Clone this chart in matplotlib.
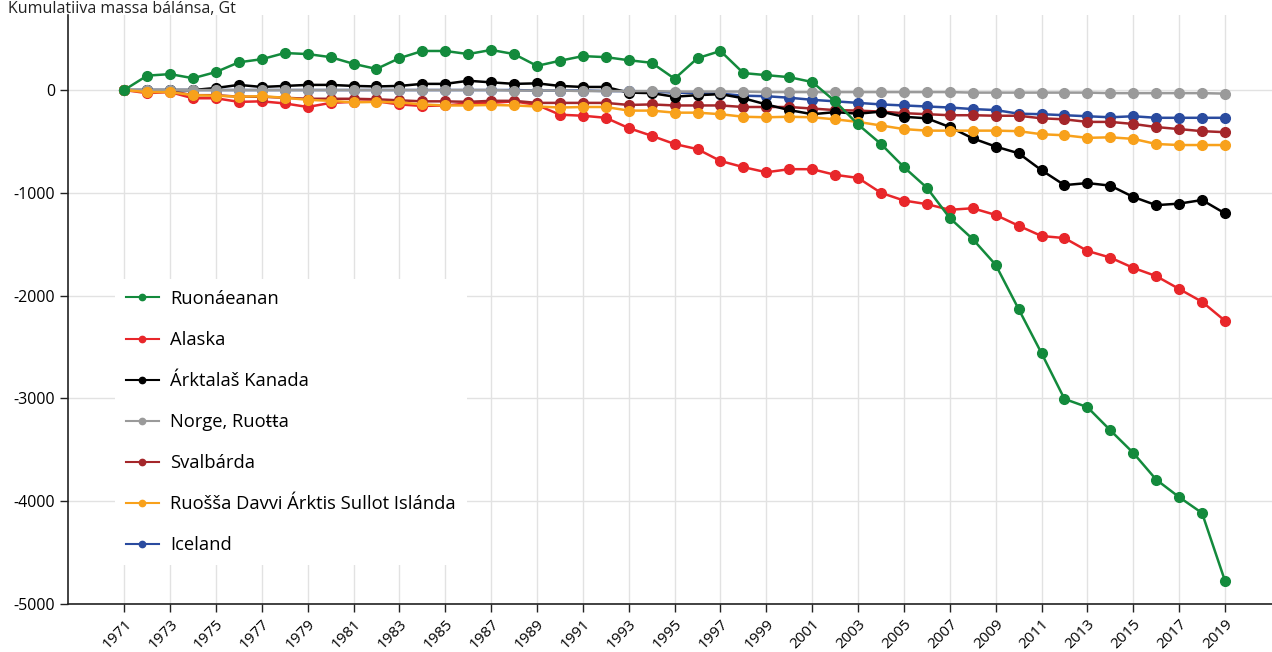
import matplotlib
matplotlib.use("Agg")
import matplotlib.pyplot as plt

plt.rcParams['font.family'] = ['Open Sans', 'DejaVu Sans']

years = list(range(1971, 2020))

# cumulative mass balance, Gt
ruonaeanan = [0, 140, 155, 115, 175, 270, 300, 360, 350, 320, 255, 205, 310, 380, 380,
              350, 390, 350, 235, 285, 330, 320, 290, 265, 110, 310, 380, 165, 145, 125,
              78, -110, -335, -525, -750, -950, -1245, -1450, -1700, -2130, -2560, -3005,
              -3085, -3310, -3530, -3790, -3960, -4115, -4775]
alaska = [0, -30, -20, -80, -80, -115, -110, -130, -165, -125, -115, -110, -140, -155, -150,
          -130, -125, -110, -145, -240, -250, -270, -370, -445, -525, -575, -690, -750, -800,
          -770, -770, -825, -855, -1000, -1075, -1110, -1165, -1150, -1215, -1320, -1420,
          -1440, -1565, -1630, -1730, -1810, -1935, -2060, -2245]
kanada = [0, 0, 0, 0, 20, 50, 30, 40, 50, 50, 40, 35, 40, 60, 60, 90, 75, 60, 65, 40, 30,
          30, -25, -30, -65, -50, -40, -80, -140, -195, -235, -215, -230, -210, -260, -275,
          -360, -470, -550, -615, -780, -925, -905, -930, -1040, -1120, -1105, -1070, -1200]
norge = [0, 0, 0, 0, 0, 0, 0, 0, 0, 0, 0, 0, 0, 0, 0, 0, 0, -5, -5, -5, -10, -10, -10, -10,
         -15, -15, -15, -15, -20, -20, -20, -20, -20, -20, -20, -20, -20, -25, -25, -25, -25,
         -25, -25, -30, -30, -30, -30, -30, -35]
svalbarda = [0, -5, -10, -50, -50, -65, -65, -75, -85, -85, -85, -90, -100, -110, -110, -115,
             -105, -105, -125, -125, -125, -125, -145, -140, -150, -150, -150, -165, -165,
             -165, -180, -195, -200, -210, -225, -235, -245, -245, -250, -250, -275, -285,
             -310, -310, -330, -360, -380, -400, -410]
ruossa = [0, -20, -20, -50, -55, -65, -60, -75, -95, -105, -120, -115, -120, -140, -150, -150,
          -145, -150, -160, -170, -165, -165, -200, -200, -220, -220, -235, -260, -265, -260,
          -265, -285, -310, -345, -380, -395, -395, -395, -395, -400, -430, -440, -465, -460,
          -475, -525, -535, -535, -535]
iceland = [0, 0, 0, 0, 0, 0, 0, 0, 0, 0, 0, 0, 0, 0, 0, 0, 0, 0, -5, -5, -5, -10, -10, -15,
           -25, -30, -35, -55, -60, -75, -95, -110, -125, -140, -150, -160, -170, -185, -195,
           -230, -235, -245, -255, -265, -255, -270, -270, -270, -270]

series = [
    ("Ruonáeanan", ruonaeanan, "#138a3c", 7),
    ("Alaska", alaska, "#e8262a", 2),
    ("Árktalaš Kanada", kanada, "#000000", 4),
    ("Norge, Ruoŧŧa", norge, "#9a9a9a", 5),
    ("Svalbárda", svalbarda, "#a4262a", 3),
    ("Ruošša Davvi Árktis Sullot Islánda", ruossa, "#f8a11b", 6),
    ("Iceland", iceland, "#2a4b9f", 1),
]

fig = plt.figure(figsize=(12.72, 6.52), dpi=100)
ax = fig.add_axes([68 / 1272, 48 / 652, 1 - 68 / 1272, 589 / 652])

for name, vals, col, z in series:
    ax.plot(years, vals, color=col, lw=1.8, marker='o', ms=7, label=name, zorder=z)

ax.set_xlim(1968.55, 2021.05)
ax.set_ylim(-5000, 730)
ax.set_xticks(years[::2])
ax.set_xticklabels([str(y) for y in years[::2]], rotation=45, ha='right',
                   rotation_mode='anchor', fontsize=11)
ax.set_yticks([0, -1000, -2000, -3000, -4000, -5000])
ax.set_yticklabels(['0', '-1000', '-2000', '-3000', '-4000', '-5000'], fontsize=11.5)
ax.tick_params(axis='both', length=6, width=1, color='#222222', pad=3)
ax.tick_params(axis='x', pad=3)
ax.grid(True, color='#e2e2e2', lw=1)
ax.set_axisbelow(True)
for s in ['top', 'right']:
    ax.spines[s].set_visible(False)
for s in ['left', 'bottom']:
    ax.spines[s].set_color('#222222')
    ax.spines[s].set_linewidth(1.2)

leg = ax.legend(loc='upper left', bbox_to_anchor=(0.039, 0.552), fontsize=13.2,
                frameon=True, facecolor='white', edgecolor='none', framealpha=1,
                fancybox=False, markerscale=0.65, handlelength=1.8, handletextpad=0.6,
                labelspacing=1.26, borderpad=0.6, borderaxespad=0)
leg.set_zorder(10)
for line in leg.get_lines():
    line.set_linewidth(1.5)

fig.text(0.006, 1 - 13 / 652, "Kumulatiiva massa bálánsa, Gt", fontsize=11.5,
         ha='left', va='baseline', color='#222222')

fig.savefig("out.png", dpi=100)
